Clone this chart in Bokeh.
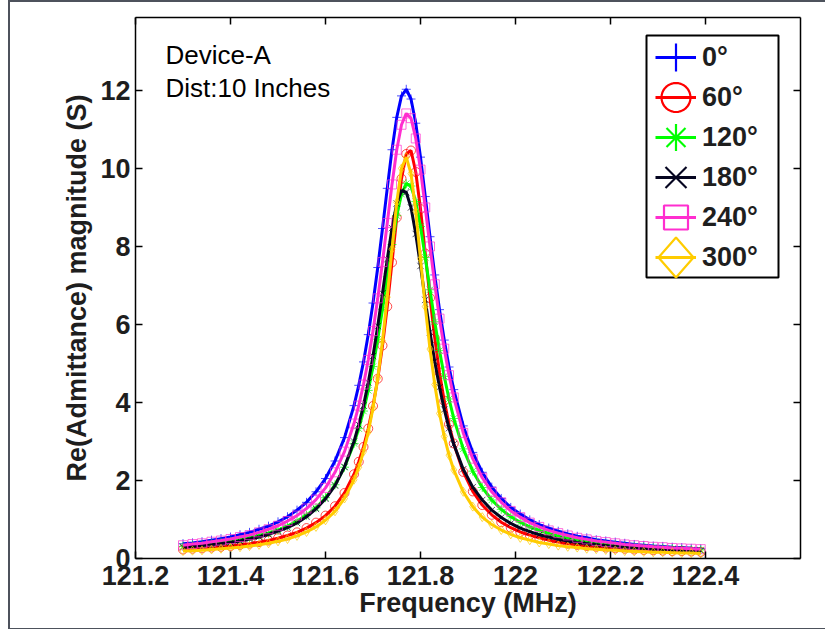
import math
from bokeh.plotting import figure
from bokeh.models import (Range1d, LinearAxis, FixedTicker, Legend, LegendItem, Label,
                          BoxAnnotation, PolyAnnotation)
from bokeh.embed import file_html
from bokeh.resources import INLINE

# ---------------- data ----------------
freq = [121.30, 121.32, 121.34, 121.36, 121.38, 121.40, 121.42, 121.44, 121.46, 121.48,
        121.50, 121.52, 121.54, 121.56, 121.58, 121.60, 121.62, 121.64, 121.66,
        121.67, 121.68, 121.69, 121.70, 121.71, 121.72, 121.73, 121.74, 121.75, 121.76,
        121.77, 121.78, 121.79, 121.80, 121.81, 121.82, 121.83, 121.84, 121.85, 121.86, 121.87,
        121.89, 121.91, 121.93, 121.95, 121.97, 121.99,
        122.01, 122.03, 122.05, 122.07, 122.09,
        122.11, 122.13, 122.15, 122.17, 122.19,
        122.21, 122.23, 122.25, 122.27, 122.29,
        122.31, 122.33, 122.35, 122.37, 122.39]

s0 = [0.38, 0.40, 0.43, 0.47, 0.51, 0.55, 0.61, 0.67, 0.75, 0.83,
      0.94, 1.07, 1.24, 1.44, 1.71, 2.05, 2.50, 3.10, 3.92,
      4.44, 5.04, 5.74, 6.55, 7.46, 8.46, 9.49, 10.48, 11.31, 11.86,
      12.03, 11.78, 11.16, 10.29, 9.28, 8.25, 7.27, 6.38, 5.60, 4.91, 4.33,
      3.40, 2.72, 2.21, 1.83, 1.54, 1.31,
      1.14, 0.99, 0.87, 0.78, 0.70,
      0.63, 0.57, 0.53, 0.48, 0.45,
      0.42, 0.39, 0.36, 0.34, 0.32,
      0.31, 0.29, 0.28, 0.26, 0.25]

s60 = [0.23, 0.25, 0.26, 0.28, 0.30, 0.32, 0.35, 0.38, 0.42, 0.46,
       0.52, 0.59, 0.67, 0.78, 0.92, 1.10, 1.34, 1.68, 2.16,
       2.48, 2.86, 3.33, 3.91, 4.61, 5.46, 6.46, 7.59, 8.74, 9.74,
       10.37, 10.46, 9.91, 8.96, 7.82, 6.68, 5.65, 4.77, 4.04, 3.44, 2.95,
       2.22, 1.72, 1.37, 1.12, 0.93, 0.79,
       0.68, 0.60, 0.53, 0.47, 0.42,
       0.38, 0.35, 0.32, 0.30, 0.28,
       0.26, 0.25, 0.23, 0.22, 0.21,
       0.20, 0.19, 0.19, 0.18, 0.17]

s120 = [0.31, 0.33, 0.35, 0.38, 0.41, 0.44, 0.48, 0.53, 0.59, 0.65,
        0.73, 0.83, 0.96, 1.11, 1.30, 1.56, 1.89, 2.34, 2.95,
        3.33, 3.78, 4.31, 4.92, 5.62, 6.39, 7.22, 8.05, 8.79, 9.34,
        9.61, 9.55, 9.15, 8.51, 7.72, 6.89, 6.07, 5.33, 4.67, 4.09, 3.59,
        2.81, 2.24, 1.82, 1.50, 1.26, 1.07,
        0.93, 0.81, 0.72, 0.64, 0.57,
        0.52, 0.47, 0.43, 0.40, 0.37,
        0.35, 0.32, 0.30, 0.29, 0.27,
        0.26, 0.25, 0.23, 0.22, 0.22]

s180 = [0.29, 0.31, 0.33, 0.35, 0.38, 0.41, 0.45, 0.50, 0.55, 0.62,
        0.70, 0.79, 0.91, 1.07, 1.27, 1.53, 1.87, 2.35, 3.00,
        3.43, 3.92, 4.51, 5.19, 5.96, 6.80, 7.67, 8.47, 9.10, 9.43,
        9.39, 9.00, 8.32, 7.50, 6.63, 5.80, 5.05, 4.39, 3.82, 3.34, 2.93,
        2.29, 1.83, 1.50, 1.24, 1.05, 0.90,
        0.78, 0.69, 0.61, 0.55, 0.49,
        0.45, 0.41, 0.38, 0.35, 0.33,
        0.31, 0.29, 0.27, 0.26, 0.24,
        0.23, 0.22, 0.21, 0.20, 0.20]

s240 = [0.34, 0.37, 0.39, 0.43, 0.46, 0.50, 0.55, 0.60, 0.67, 0.75,
        0.84, 0.96, 1.10, 1.28, 1.51, 1.81, 2.21, 2.74, 3.46,
        3.92, 4.46, 5.09, 5.83, 6.67, 7.60, 8.60, 9.59, 10.48, 11.12,
        11.41, 11.29, 10.77, 9.97, 9.00, 8.00, 7.03, 6.15, 5.38, 4.70, 4.13,
        3.22, 2.56, 2.07, 1.71, 1.44, 1.22,
        1.06, 0.92, 0.81, 0.72, 0.65,
        0.59, 0.53, 0.49, 0.45, 0.42,
        0.39, 0.36, 0.34, 0.32, 0.30,
        0.29, 0.27, 0.26, 0.25, 0.24]

s300 = [0.19, 0.20, 0.21, 0.23, 0.25, 0.27, 0.29, 0.32, 0.35, 0.39,
        0.44, 0.50, 0.58, 0.68, 0.81, 0.98, 1.21, 1.54, 2.02,
        2.34, 2.74, 3.24, 3.86, 4.63, 5.58, 6.70, 7.93, 9.13, 10.00,
        10.29, 9.87, 8.90, 7.68, 6.46, 5.37, 4.46, 3.72, 3.13, 2.65, 2.27,
        1.71, 1.33, 1.06, 0.87, 0.73, 0.62,
        0.53, 0.47, 0.41, 0.37, 0.33,
        0.30, 0.28, 0.25, 0.24, 0.22,
        0.21, 0.19, 0.18, 0.17, 0.16,
        0.16, 0.15, 0.14, 0.14, 0.13]

series_names = ["0°", "60°", "120°", "180°", "240°", "300°"]
series_values = [s0, s60, s120, s180, s240, s300]
series_colors = ["#0000FF", "#FF0000", "#00FF00", "#050520", "#FF2ECF", "#FFCC00"]
series_markers = ["cross", "circle", "asterisk", "x", "square", "diamond"]

x_ticks = [121.2, 121.4, 121.6, 121.8, 122.0, 122.2, 122.4]
x_tick_labels = ["121.2", "121.4", "121.6", "121.8", "122", "122.2", "122.4"]
y_ticks = [0, 2, 4, 6, 8, 10, 12]
y_tick_labels = ["0", "2", "4", "6", "8", "10", "12"]

FONT = "Liberation Sans"
TXT = "#1e1e1e"

# frame inside the canvas: left 125, right 790, top 15, bottom 556
p = figure(width=815, height=626,
           x_range=Range1d(121.2, 122.6), y_range=Range1d(0, 13.87),
           output_backend="svg", toolbar_location=None,
           min_border_left=125, min_border_right=25,
           min_border_top=15, min_border_bottom=70)
p.margin = (2, 0, 0, 10)
p.styles = {"outline": "2px solid #4d525c"}
p.background_fill_color = "white"
p.border_fill_color = "white"
p.outline_line_color = None
p.xgrid.visible = False
p.ygrid.visible = False


def style_axis(ax, show):
    ax.major_tick_in = 7
    ax.major_tick_out = 0
    ax.minor_tick_line_color = None
    ax.axis_line_width = 1.5
    ax.major_tick_line_width = 1.5
    ax.axis_line_color = "black"
    ax.major_tick_line_color = "black"
    ax.major_label_text_font = FONT
    ax.major_label_text_font_style = "bold"
    if show:
        ax.major_label_text_color = TXT
        ax.major_label_text_font_size = "27px"
    else:
        ax.major_label_text_color = None
        ax.major_label_text_font_size = "1px"
        ax.major_label_standoff = 0
    ax.axis_label_text_font = FONT
    ax.axis_label_text_font_style = "bold"
    ax.axis_label_text_font_size = "27px"
    ax.axis_label_text_color = TXT


xa = p.xaxis[0]
xa.ticker = FixedTicker(ticks=x_ticks)
xa.major_label_overrides = dict(zip(x_ticks, x_tick_labels))
xa.axis_label = "Frequency (MHz)"
style_axis(xa, True)
xa.major_label_standoff = 7
xa.axis_label_standoff = 0

ya = p.yaxis[0]
ya.ticker = FixedTicker(ticks=y_ticks)
ya.major_label_overrides = dict(zip(y_ticks, y_tick_labels))
ya.axis_label = "Re(Admittance) magnitude (S)"
style_axis(ya, True)
ya.major_label_standoff = 5
ya.axis_label_standoff = 5

top_ax = LinearAxis(ticker=FixedTicker(ticks=x_ticks))
style_axis(top_ax, False)
p.add_layout(top_ax, "above")

right_ax = LinearAxis(ticker=FixedTicker(ticks=y_ticks))
style_axis(right_ax, False)
p.add_layout(right_ax, "right")

items = []
for name, vals, col, mk in zip(series_names, series_values, series_colors, series_markers):
    p.scatter(freq, vals, marker=mk, size=9, line_color=col, fill_color=None,
              line_width=1, line_alpha=0.7)
    r_line = p.line(freq, vals, line_color=col, line_width=3)
    items.append(LegendItem(label=name, renderers=[r_line]))

# ---------------- legend (screen units, relative to the frame's bottom-left) ----------------
p.add_layout(BoxAnnotation(left=511, right=643, top=523, bottom=281,
                           left_units="screen", right_units="screen",
                           top_units="screen", bottom_units="screen",
                           fill_color="white", fill_alpha=1.0,
                           line_color="black", line_width=2, line_alpha=1.0))

legend = Legend(items=items, location=(520, 281))
legend.glyph_width = 41
legend.glyph_height = 40
legend.spacing = 0
legend.padding = 0
legend.margin = 0
legend.label_standoff = 6
legend.label_width = 60
legend.label_height = 40
legend.label_text_font = FONT
legend.label_text_font_style = "bold"
legend.label_text_font_size = "27px"
legend.label_text_color = TXT
legend.border_line_color = None
legend.background_fill_alpha = 0.0
p.add_layout(legend)

# large legend markers drawn as outline shapes
LX = 540.5          # marker centre, from frame left
LY0, DY = 501, 40   # first row centre (from frame bottom) and row pitch


def shape(xs, ys, color):
    p.add_layout(PolyAnnotation(xs=xs, ys=ys, xs_units="screen", ys_units="screen",
                                fill_color=None, line_color=color, line_width=2.2,
                                line_alpha=1.0))


def seg(cx, cy, dx0, dy0, dx1, dy1, color):
    shape([cx + dx0, cx + dx1], [cy + dy0, cy + dy1], color)


for i, (mk, col) in enumerate(zip(series_markers, series_colors)):
    cy = LY0 - DY * i
    cx = LX
    if mk == "cross":
        seg(cx, cy, 0, -14, 0, 14, col)
        seg(cx, cy, -14, 0, 14, 0, col)
    elif mk == "circle":
        n = 36
        shape([cx + 14.5 * math.cos(2 * math.pi * k / n) for k in range(n)],
              [cy + 14.5 * math.sin(2 * math.pi * k / n) for k in range(n)], col)
    elif mk == "asterisk":
        seg(cx, cy, 0, -13.5, 0, 13.5, col)
        seg(cx, cy, -13.5, 0, 13.5, 0, col)
        seg(cx, cy, -9.5, -9.5, 9.5, 9.5, col)
        seg(cx, cy, -9.5, 9.5, 9.5, -9.5, col)
    elif mk == "x":
        seg(cx, cy, -10.5, -10.5, 10.5, 10.5, col)
        seg(cx, cy, -10.5, 10.5, 10.5, -10.5, col)
    elif mk == "square":
        shape([cx - 12, cx + 12, cx + 12, cx - 12], [cy - 12, cy - 12, cy + 12, cy + 12], col)
    elif mk == "diamond":
        shape([cx, cx + 17.5, cx, cx - 17.5], [cy + 20, cy, cy - 20, cy], col)

for txt, yv in [("Device-A", 12.90), ("Dist:10 Inches", 12.05)]:
    p.add_layout(Label(x=121.263, y=yv, text=txt, text_font=FONT, text_font_size="26px",
                       text_color="black", text_baseline="alphabetic"))

open("out.html", "w").write(file_html(p, INLINE))
